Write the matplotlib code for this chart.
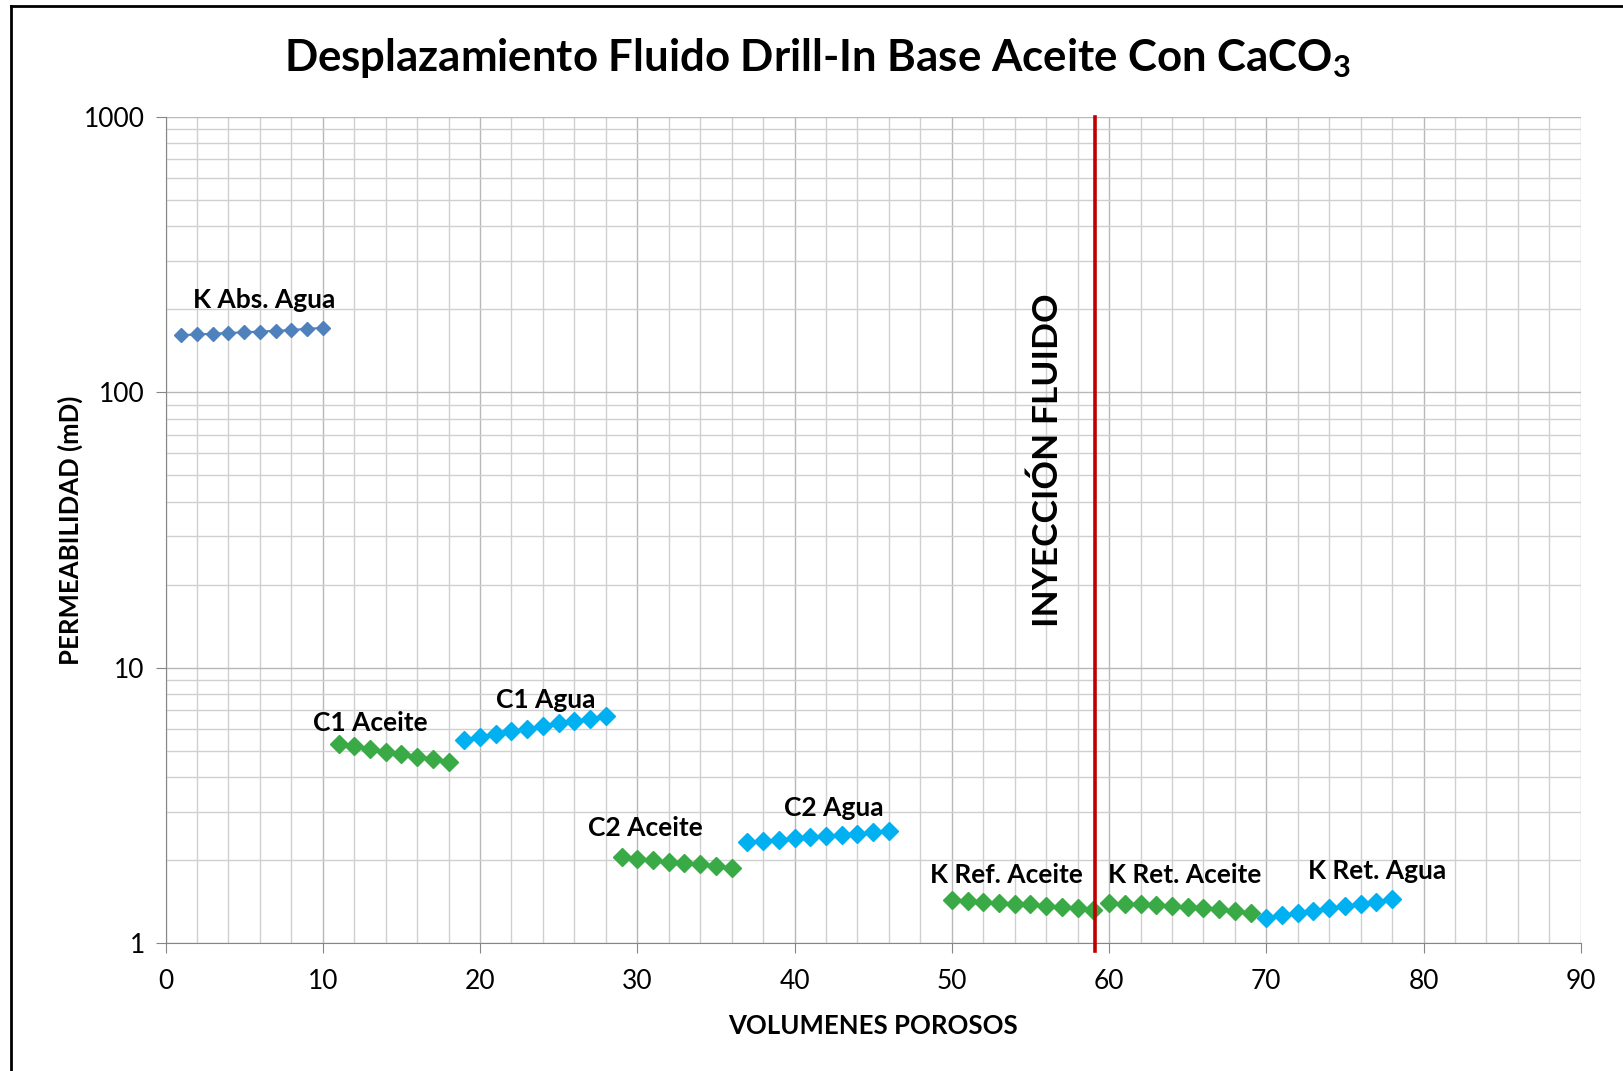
import matplotlib.pyplot as plt
from matplotlib.ticker import MultipleLocator, LogLocator, NullFormatter, FixedLocator
from matplotlib.lines import Line2D

plt.rcParams['font.family'] = ['Lato', 'DejaVu Sans']
plt.rcParams['mathtext.fontset'] = 'custom'
plt.rcParams['mathtext.rm'] = 'Lato:bold'
plt.rcParams['mathtext.default'] = 'rm'

# series: x (volumenes porosos) and permeability (mD)
x_abs_agua = [1, 2, 3, 4, 5, 6, 7, 8, 9, 10]
k_abs_agua = [161, 162, 163, 164, 165, 166, 167, 168, 170, 171]

x_c1_aceite = [11, 12, 13, 14, 15, 16, 17, 18]
k_c1_aceite = [5.3, 5.2, 5.05, 4.95, 4.85, 4.75, 4.65, 4.55]

x_c1_agua = [19, 20, 21, 22, 23, 24, 25, 26, 27, 28]
k_c1_agua = [5.45, 5.6, 5.75, 5.9, 6.0, 6.15, 6.3, 6.4, 6.5, 6.65]

x_c2_aceite = [29, 30, 31, 32, 33, 34, 35, 36]
k_c2_aceite = [2.05, 2.02, 2.0, 1.97, 1.95, 1.93, 1.9, 1.88]

x_c2_agua = [37, 38, 39, 40, 41, 42, 43, 44, 45, 46]
k_c2_agua = [2.33, 2.35, 2.37, 2.4, 2.42, 2.44, 2.46, 2.49, 2.52, 2.55]

x_ref_aceite = [50, 51, 52, 53, 54, 55, 56, 57, 58, 59]
k_ref_aceite = [1.43, 1.42, 1.41, 1.40, 1.39, 1.38, 1.36, 1.35, 1.34, 1.32]

x_ret_aceite = [60, 61, 62, 63, 64, 65, 66, 67, 68, 69]
k_ret_aceite = [1.40, 1.39, 1.38, 1.37, 1.36, 1.35, 1.34, 1.33, 1.31, 1.29]

x_ret_agua = [70, 71, 72, 73, 74, 75, 76, 77, 78]
k_ret_agua = [1.23, 1.26, 1.29, 1.31, 1.34, 1.36, 1.38, 1.41, 1.44]

injection_x = 59.1

# labels placed near each series (x center, y)
labels = ["K Abs. Agua", "C1 Aceite", "C1 Agua", "C2 Aceite", "C2 Agua",
          "K Ref. Aceite", "K Ret. Aceite", "K Ret. Agua"]
label_x = [6.25, 13.0, 24.2, 30.5, 42.5, 53.5, 64.8, 77.05]
label_y = [216, 6.3, 7.6, 2.61, 3.1, 1.77, 1.77, 1.82]

BLUE = '#4F81BD'
GREEN = '#3AAA47'
CYAN = '#00B0F0'

fig = plt.figure(figsize=(16.23, 10.71), dpi=100)
ax = fig.add_axes([0.102, 0.1195, 0.872, 0.7715])

ax.plot(x_abs_agua, k_abs_agua, marker='D', ms=7.5, color=BLUE, lw=1.5)
for xs, ks, c in [(x_c1_aceite, k_c1_aceite, GREEN), (x_c1_agua, k_c1_agua, CYAN),
                  (x_c2_aceite, k_c2_aceite, GREEN), (x_c2_agua, k_c2_agua, CYAN),
                  (x_ref_aceite, k_ref_aceite, GREEN), (x_ret_aceite, k_ret_aceite, GREEN),
                  (x_ret_agua, k_ret_agua, CYAN)]:
    ax.plot(xs, ks, marker='D', ms=9, color=c, lw=1.5, linestyle='none')

ax.set_yscale('log')
ax.set_xlim(0, 90)
ax.set_ylim(1, 1000)

ax.xaxis.set_major_locator(MultipleLocator(10))
ax.xaxis.set_minor_locator(MultipleLocator(2))
ax.yaxis.set_major_locator(FixedLocator([1, 10, 100, 1000]))
ax.yaxis.set_minor_locator(LogLocator(base=10, subs=range(2, 10)))
ax.yaxis.set_minor_formatter(NullFormatter())
ax.set_yticklabels(['1', '10', '100', '1000'])

ax.grid(True, which='major', color='#B8B8B8', lw=1.0)
ax.grid(True, which='minor', color='#D0D0D0', lw=1.0)
ax.set_axisbelow(True)

ax.tick_params(which='major', direction='out', length=7, color='#868686',
               labelsize=19)
ax.tick_params(axis='x', pad=12)
ax.tick_params(axis='y', pad=8)
ax.tick_params(which='minor', length=0)
for s in ['top', 'right']:
    ax.spines[s].set_visible(False)
for s in ['left', 'bottom']:
    ax.spines[s].set_color('#868686')

ax.axvline(injection_x, ymin=-0.01, ymax=1, color='#C00000', lw=2.6, clip_on=False, zorder=3)
ax.text(56.1, 56.5, 'INYECCIÓN FLUIDO', rotation=90, ha='center', va='center',
        fontsize=25.5, fontweight='bold')

for t, lx, ly in zip(labels, label_x, label_y):
    ax.text(lx, ly, t, ha='center', va='center', fontsize=19, fontweight='bold')

ax.set_xlabel('VOLUMENES POROSOS', fontsize=18.5, fontweight='bold', labelpad=14)
ax.set_ylabel('PERMEABILIDAD (mD)', fontsize=18.5, fontweight='bold')
ax.yaxis.set_label_coords(-0.0676, 0.5)
ax.yaxis.label.set_va('center')

fig.text(0.504, 0.946, 'Desplazamiento Fluido Drill-In Base Aceite Con CaCO$_3$',
         ha='center', va='center', fontsize=31.5, fontweight='bold')

# chart-area border (left and top edges visible)
fig.add_artist(Line2D([0.0065, 0.0065], [0, 0.9945], color='black', lw=2, transform=fig.transFigure))
fig.add_artist(Line2D([0.0065, 1.0], [0.9945, 0.9945], color='black', lw=2, transform=fig.transFigure))

fig.savefig('out.png', dpi=100)
